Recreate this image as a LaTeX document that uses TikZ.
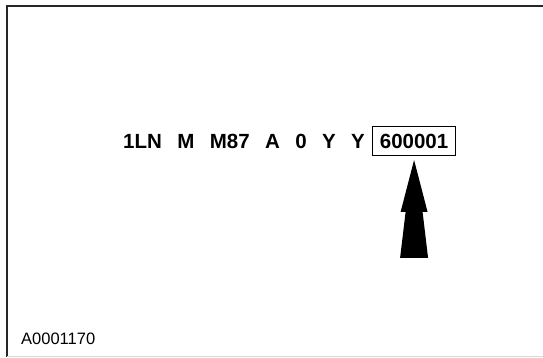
\documentclass[tikz,border=0pt]{standalone}
\usepackage{fontspec}
\setmainfont{Liberation Sans}
\usetikzlibrary{positioning}

\begin{document}
\begin{tikzpicture}[x=1pt, y=1pt, node distance={15pt},
    code/.style = {inner sep=0pt, font=\bfseries\fontsize{20.5}{24}\selectfont},
    serialbox/.style = {code, draw, line width=1.1pt, minimum width=83pt, minimum height=29pt}]
    \useasboundingbox (0,0) rectangle (543,357);
    \draw[line width=2pt, black!85] (6.5,0) -- (6.5,350.5) -- (543,350.5);
    \draw[line width=1pt, black!15] (6.5,1) -- (543,1);
    \node[code, anchor=base west] (wmi) at (123,209) {1LN};
    \node[code] (line) [base right=of wmi] {M};
    \node[code] (model) [base right=of line] {M87};
    \node[code] (restraint) [base right=of model] {A};
    \node[code] (check) [base right=of restraint] {0};
    \node[code] (year) [base right=of check] {Y};
    \node[code] (plant) [base right=of year] {Y};
    \node[serialbox] (serial) [base right=7pt of plant] {600001};
    \coordinate (tip) at ([yshift=-4pt]serial.south);
    \fill (tip) -- ++(-13.5,-52) -- ++(5,0) -- ++(-5.5,-46) -- ++(28,0)
        -- ++(-5.5,46) -- ++(5,0) -- cycle;
    \node[anchor=base west, inner sep=0pt, font=\fontsize{16.5}{20}\selectfont] (fig) at (21,13) {A0001170};
\end{tikzpicture}
\end{document}
